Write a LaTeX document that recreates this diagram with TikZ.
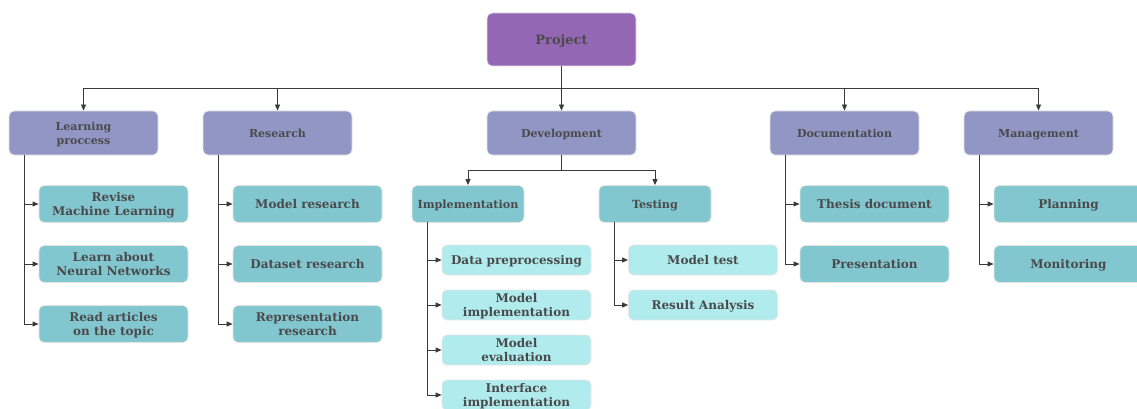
\documentclass[tikz,border=0pt]{standalone}
\usepackage{fontspec}
\setmainfont{DejaVu Serif}
\usetikzlibrary{arrows.meta}
\definecolor{rootfill}{HTML}{9467B5}
\definecolor{catfill}{HTML}{9196C4}
\definecolor{subfill}{HTML}{82C6D0}
\definecolor{leaffill}{HTML}{B0ECEE}
\definecolor{txt}{HTML}{4A4A4A}
\definecolor{wire}{HTML}{3A3A3A}
\tikzset{
  box/.style={draw=white!80!gray, line width=0.8pt, rounded corners=5pt, text=txt,
    font=\bfseries\fontsize{12}{14}\selectfont, align=center, inner sep=0pt,
    text depth=0pt},
  rootbox/.style={box, fill=rootfill, minimum width=149pt, minimum height=53pt,
    font=\bfseries\fontsize{13}{15}\selectfont},
  catbox/.style={box, fill=catfill, minimum width=149pt, minimum height=44pt,
    font=\bfseries\fontsize{11}{14}\selectfont},
  subbox/.style={box, fill=subfill, minimum width=149pt, minimum height=37pt},
  devbox/.style={box, fill=subfill, minimum width=112pt, minimum height=37pt,
    font=\bfseries\fontsize{11.2}{14}\selectfont},
  leafbox/.style={box, fill=leaffill, minimum width=149pt, minimum height=30pt},
  wire/.style={draw=wire, line width=0.8pt},
  link/.style={wire, -{Triangle[length=6pt,width=5pt]}}
}
\begin{document}
\begin{tikzpicture}[x=1pt, y=-1pt]
\useasboundingbox (0,0) rectangle (1137,409);
% root
\node[rootbox] (proj) at (561.5,39.5) {Project};
% categories
\node[catbox] (learn) at (83.5,133) {Learning\\proccess};
\node[catbox] (res) at (277.5,133) {Research};
\node[catbox] (dev) at (561.5,133) {Development};
\node[catbox] (doc) at (844.5,133) {Documentation};
\node[catbox] (man) at (1038.5,133) {Management};
% bus from root to categories
\coordinate (bus) at (561.5,88);
\draw[wire] (proj.south) -- (bus);
\foreach \n in {learn,res,dev,doc,man}
  \draw[link] (bus) -| (\n.north);
% learning
\node[subbox] (l1) at (113.5,204) {Revise\\Machine Learning};
\node[subbox] (l2) at (113.5,264) {Learn about\\Neural Networks};
\node[subbox] (l3) at (113.5,324) {Read articles\\on the topic};
\coordinate (lt) at (24,155);
\foreach \n in {l1,l2,l3} \draw[link] (lt) |- (\n.west);
% research
\node[subbox] (r1) at (307.5,204) {Model research};
\node[subbox] (r2) at (307.5,264) {Dataset research};
\node[subbox] (r3) at (307.5,324) {Representation\\research};
\coordinate (rt) at (218,155);
\foreach \n in {r1,r2,r3} \draw[link] (rt) |- (\n.west);
% development
\node[devbox] (impl) at (468,204) {Implementation};
\node[devbox] (test) at (655,204) {Testing};
\coordinate (db) at (561.5,170);
\draw[wire] (dev.south) -- (db);
\draw[link] (db) -| (impl.north);
\draw[link] (db) -| (test.north);
\node[leafbox] (i1) at (516.5,260) {Data preprocessing};
\node[leafbox] (i2) at (516.5,305) {Model\\implementation};
\node[leafbox] (i3) at (516.5,350) {Model\\evaluation};
\node[leafbox] (i4) at (516.5,395) {Interface\\implementation};
\coordinate (it) at (427,222);
\foreach \n in {i1,i2,i3,i4} \draw[link] (it) |- (\n.west);
\node[leafbox] (t1) at (703,260) {Model test};
\node[leafbox] (t2) at (703,305) {Result Analysis};
\coordinate (tt) at (614,222);
\foreach \n in {t1,t2} \draw[link] (tt) |- (\n.west);
% documentation
\node[subbox] (d1) at (874.5,204) {Thesis document};
\node[subbox] (d2) at (874.5,264) {Presentation};
\coordinate (dt) at (785,155);
\foreach \n in {d1,d2} \draw[link] (dt) |- (\n.west);
% management
\node[subbox] (m1) at (1068.5,204) {Planning};
\node[subbox] (m2) at (1068.5,264) {Monitoring};
\coordinate (mt) at (979,155);
\foreach \n in {m1,m2} \draw[link] (mt) |- (\n.west);
\end{tikzpicture}
\end{document}
